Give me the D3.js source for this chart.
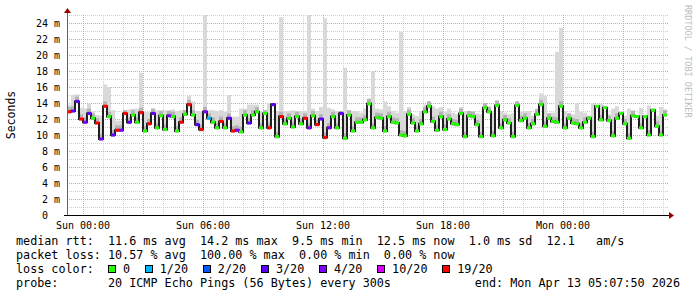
<!DOCTYPE html>
<html>
<head>
<meta charset="utf-8">
<title>SmokePing latency</title>
<script src="https://cdn.jsdelivr.net/npm/d3@7"></script>
<style>
  body { margin: 0; background: #fff; }
  text { font-family: "DejaVu Sans Mono", monospace; fill: #000; }
  .pre { white-space: pre; }
</style>
</head>
<body>
<script>
// median rtt (ms) per 12 minute step, from Sat 23:12 to Mon 05:12
var median = [12.9,13.0,14.2,12.0,11.6,12.7,12.1,11.5,9.5,13.6,12.3,10.0,10.6,10.6,12.7,11.6,12.5,11.6,12.8,10.5,
  11.4,12.7,10.9,12.4,10.7,12.4,12.3,10.5,11.6,12.6,13.8,12.5,11.3,10.7,12.9,12.1,11.6,10.9,11.7,10.9,
  12.1,10.5,10.6,10.4,12.5,11.5,12.5,12.9,10.9,12.7,10.9,13.8,9.8,12.3,11.4,12.1,11.0,12.3,11.4,12.1,
  10.9,12.4,11.3,12.0,9.7,10.9,12.3,10.9,12.7,9.6,12.5,10.5,11.6,11.6,11.9,
  13.9,10.9,12.2,12.1,10.5,12.3,11.6,11.5,10.0,9.9,12.6,11.5,10.5,11.4,12.9,13.6,11.7,10.6,12.3,10.7,
  12.0,11.4,11.3,12.7,9.8,12.4,12.3,11.3,9.8,13.4,12.9,9.9,13.7,10.9,11.9,11.5,9.8,13.7,11.8,12.1,
  10.9,11.4,12.6,13.8,11.1,12.1,11.7,11.6,13.6,10.9,12.1,11.5,11.4,10.9,11.6,12.1,9.8,13.6,11.9,13.4,
  11.8,9.9,12.1,12.7,11.4,9.6,12.4,12.3,10.9,12.3,10.0,13.1,11.1,10.0,12.5];

// top of the smoke (slowest ping) per step, ms
var smokeTop = [13.8,15.0,15.1,13.4,13.3,13.9,12.9,12.5,12.4,16.3,16.0,13.1,11.8,11.8,13.1,13.2,13.3,13.3,17.8,12.9,
  12.9,13.3,13.1,13.1,13.1,13.1,13.2,13.0,13.1,13.1,14.9,14.2,13.0,12.9,25.5,13.1,13.1,13.0,13.1,12.9,
  15.0,12.3,12.3,13.3,13.3,13.8,13.8,13.8,12.9,13.1,14.0,14.0,13.0,24.7,13.0,13.0,13.1,13.0,13.0,13.0,
  25.5,13.3,13.0,13.5,24.6,13.4,13.2,13.0,13.0,18.4,13.1,13.0,12.9,12.8,13.3,
  14.6,18.0,13.3,13.2,14.2,13.6,13.0,12.8,22.9,13.0,13.5,12.6,12.4,13.0,13.8,14.2,13.6,13.3,13.5,12.9,
  13.3,12.8,12.6,13.5,13.0,13.0,13.0,12.7,12.6,14.0,13.6,12.8,14.3,13.0,12.8,12.6,12.7,14.2,12.9,13.0,
  13.0,12.4,13.3,15.2,14.9,12.7,12.8,20.4,23.4,13.0,12.7,12.6,14.0,12.9,12.8,12.4,14.0,12.6,13.9,12.9,
  12.6,13.3,13.6,12.6,12.4,13.3,13.1,12.5,13.4,12.4,13.7,13.3,12.4,13.5,13.2];

// lost pings out of 20 per step
var loss = [19,3,3,19,4,3,0,19,4,19,0,3,19,4,19,3,0,0,19,0,
  19,3,0,0,0,4,0,0,19,0,19,0,3,19,4,1,0,0,19,0,
  3,19,4,0,0,3,0,0,0,0,19,3,0,19,0,0,0,0,0,19,
  4,0,19,3,19,4,0,0,3,0,0,0,0,0,0,
  0,0,0,0,0,0,0,0,0,0,0,0,0,0,0,0,0,0,0,0,
  0,0,0,0,0,0,0,0,0,0,0,0,0,0,0,0,0,0,0,0,
  0,0,0,0,0,0,0,0,0,0,0,0,0,0,0,0,0,0,0,0,
  0,0,0,0,0,0,0,0,0,0,0,0,0,0,0];

var lossLevels = [0, 1, 2, 3, 4, 10, 19];
var lossLabels = ["0", "1/20", "2/20", "3/20", "4/20", "10/20", "19/20"];
var lossColors = ["#26ff00", "#00b8ff", "#0059ff", "#5e00ff", "#7e00ff", "#dd00ff", "#ff0000"];

var yTickValues = [0, 2, 4, 6, 8, 10, 12, 14, 16, 18, 20, 22, 24];

var legendLines = [
  "median rtt:  11.6 ms avg  14.2 ms max  9.5 ms min  12.5 ms now  1.0 ms sd  12.1   am/s",
  "packet loss: 10.57 % avg  100.00 % max  0.00 % min  0.00 % now",
  "loss color:",
  "probe:       20 ICMP Echo Pings (56 Bytes) every 300s"
];
var endLabel = "end: Mon Apr 13 05:07:50 2026";

var startTime = new Date(2026, 3, 11, 23, 12, 0);
var stepMin = 12;
var times = median.map(function(d, i) { return d3.timeMinute.offset(startTime, i * stepMin); });
var endTime = d3.timeMinute.offset(startTime, median.length * stepMin);

var svg = d3.select("body").append("svg")
  .attr("width", 697).attr("height", 297);
svg.append("rect").attr("width", 697).attr("height", 297).attr("fill", "#fff");

var x = d3.scaleTime().domain([startTime, endTime]).range([67, 667]);
var y = d3.scaleLinear().domain([0, 25]).range([215, 15]);

svg.append("clipPath").attr("id", "plot")
  .append("rect").attr("x", 67).attr("y", 15).attr("width", 600).attr("height", 200);

// grid
var grid = svg.append("g").attr("shape-rendering", "crispEdges").attr("stroke-dasharray", "1,1");
var minorY = d3.range(1, 26, 2), majorY = yTickValues.slice(1);
grid.selectAll(".gy").data(minorY).enter().append("line")
  .attr("x1", 67).attr("x2", 668)
  .attr("y1", function(d) { return Math.round(y(d)) + 0.5; })
  .attr("y2", function(d) { return Math.round(y(d)) + 0.5; })
  .attr("stroke", "#cfcfcf");
var hours = x.ticks(d3.timeHour.every(1)).filter(function(d) { return d.getHours() % 3 != 0; });
grid.selectAll(".gx").data(hours).enter().append("line")
  .attr("x1", function(d) { return Math.round(x(d)) + 0.5; })
  .attr("x2", function(d) { return Math.round(x(d)) + 0.5; })
  .attr("y1", 15).attr("y2", 215)
  .attr("stroke", "#cfcfcf");
grid.selectAll(".my").data(majorY).enter().append("line")
  .attr("x1", 67).attr("x2", 668)
  .attr("y1", function(d) { return Math.round(y(d)) + 0.5; })
  .attr("y2", function(d) { return Math.round(y(d)) + 0.5; })
  .attr("stroke", "#dea0a0");
grid.selectAll(".mx").data(x.ticks(d3.timeHour.every(3))).enter().append("line")
  .attr("x1", function(d) { return Math.round(x(d)) + 0.5; })
  .attr("x2", function(d) { return Math.round(x(d)) + 0.5; })
  .attr("y1", 15).attr("y2", 215)
  .attr("stroke", "#dea0a0");

// smoke
var plot = svg.append("g").attr("clip-path", "url(#plot)");
var stepW = x(times[1]) - x(times[0]);
plot.selectAll(".smoke").data(median).enter().append("rect")
  .attr("x", function(d, i) { return x(times[i]); })
  .attr("width", stepW)
  .attr("y", function(d, i) { return y(smokeTop[i]); })
  .attr("height", function(d, i) { return y(d) - y(smokeTop[i]) + 2; })
  .attr("fill", "#d9d9d9");
plot.selectAll(".core").data(median).enter().append("rect")
  .attr("x", function(d, i) { return x(times[i]); })
  .attr("width", stepW)
  .attr("y", function(d, i) { return y(Math.min(smokeTop[i], d + 0.6)); })
  .attr("height", function(d, i) { return y(d) - y(Math.min(smokeTop[i], d + 0.6)); })
  .attr("fill", "#b4b4b4");

// median line
var pts = median.map(function(d, i) { return [x(times[i]), y(d)]; });
pts.push([x(endTime), y(median[median.length - 1])]);
plot.append("path")
  .attr("d", d3.line().curve(d3.curveStepAfter)(pts))
  .attr("fill", "none").attr("stroke", "#202020").attr("stroke-width", 2);

// loss colour blocks on the median
plot.selectAll(".med").data(median).enter().append("rect")
  .attr("x", function(d, i) { return x(times[i]); })
  .attr("width", stepW)
  .attr("y", function(d) { return y(d) - 1.5; })
  .attr("height", 3)
  .attr("fill", function(d, i) { return lossColors[lossLevels.indexOf(loss[i])]; });

// axes
svg.append("line").attr("x1", 67.5).attr("x2", 67.5).attr("y1", 12).attr("y2", 215)
  .attr("stroke", "#666").attr("shape-rendering", "crispEdges");
svg.append("line").attr("x1", 64).attr("x2", 670).attr("y1", 215.5).attr("y2", 215.5)
  .attr("stroke", "#000").attr("shape-rendering", "crispEdges");
svg.append("path").attr("d", "M64,13L71,13L67.5,8Z").attr("fill", "#9a0000");
svg.append("path").attr("d", "M669,212L669,219L674,215.5Z").attr("fill", "#9a0000");

// y labels
svg.selectAll(".yl").data(yTickValues).enter().append("text")
  .attr("class", "pre")
  .attr("x", 60).attr("y", function(d) { return y(d) + 3.5; })
  .attr("text-anchor", "end").attr("font-size", "10px")
  .text(function(d) { return d == 0 ? "0  " : d + " m"; });

// x labels
var fmt = d3.timeFormat("%a %H:%M");
svg.selectAll(".xl").data(x.ticks(d3.timeHour.every(6))).enter().append("text")
  .attr("x", function(d) { return x(d); }).attr("y", 228.5)
  .attr("text-anchor", "middle").attr("font-size", "10px")
  .text(function(d) { return fmt(d); });

svg.append("text")
  .attr("transform", "translate(14.5,115) rotate(-90)")
  .attr("text-anchor", "middle").attr("font-size", "11.5px")
  .text("Seconds");

svg.append("text")
  .attr("transform", "translate(685,5) rotate(90)")
  .attr("font-size", "8.5px").style("fill", "#bdbdbd")
  .text("RRDTOOL / TOBI OETIKER");

// legend
var charW = 7.07;
var baselines = [245, 259, 273, 286.7];
svg.selectAll(".lg").data(legendLines).enter().append("text")
  .attr("class", "pre")
  .attr("x", 16).attr("y", function(d, i) { return baselines[i]; })
  .attr("font-size", "11.75px")
  .text(function(d) { return d; });

var cursor = 16 + 13 * charW;
lossLabels.forEach(function(lbl, i) {
  svg.append("rect")
    .attr("x", cursor + 0.5).attr("y", 265.5).attr("width", 7).attr("height", 7)
    .attr("fill", lossColors[i]).attr("stroke", "#000").attr("shape-rendering", "crispEdges");
  svg.append("text")
    .attr("x", cursor + 15).attr("y", baselines[2])
    .attr("font-size", "11.75px")
    .text(lbl);
  cursor = cursor + 15 + lbl.length * charW + 14.8;
});

svg.append("text")
  .attr("x", 680).attr("y", baselines[3])
  .attr("text-anchor", "end").attr("font-size", "11.75px")
  .text(endLabel);
</script>
</body>
</html>
